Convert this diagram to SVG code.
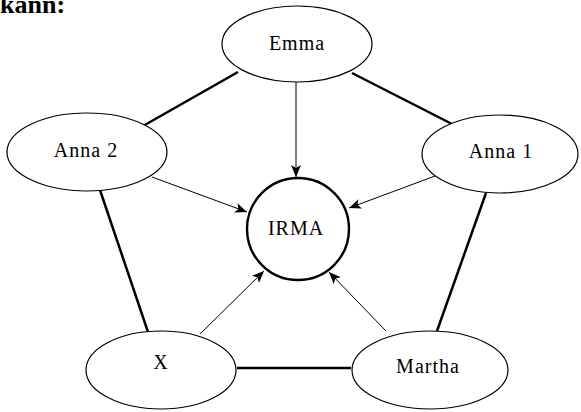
<svg xmlns="http://www.w3.org/2000/svg" width="581" height="412" viewBox="0 0 581 412">
<style>
.node{fill:#fff;stroke:#000;stroke-width:1.2}
.irma{fill:#fff;stroke:#000;stroke-width:2.4}
.lbl{font-family:"Liberation Serif","Times New Roman",serif;font-size:20px;letter-spacing:1px;text-anchor:middle;fill:#000}
.thick{stroke:#000;stroke-width:2.5;fill:none}
.arrow{stroke:#000;stroke-width:1;fill:none;marker-end:url(#ah)}
</style>
<defs>
<marker id="ah" viewBox="0 0 12 10" refX="12" refY="5" markerWidth="12" markerHeight="10" markerUnits="userSpaceOnUse" orient="auto">
<path d="M0,0 L12,5 L0,10 L3,5 Z" fill="#000"/>
</marker>
</defs>
<text x="0" y="13" style="font-family:'Liberation Serif',serif;font-size:26px;font-weight:bold">kann:</text>
<g id="connectors">
<line class="thick" x1="238" y1="72" x2="143" y2="126"/>
<line class="thick" x1="352" y1="73" x2="452" y2="124"/>
<line class="thick" x1="100" y1="190" x2="148" y2="332"/>
<line class="thick" x1="486" y1="193" x2="437" y2="331"/>
<line class="thick" x1="237" y1="368" x2="351" y2="368"/>
<line class="arrow" x1="296" y1="82" x2="296" y2="177"/>
<line class="arrow" x1="152" y1="177" x2="247" y2="212"/>
<line class="arrow" x1="435" y1="176" x2="349" y2="208"/>
<line class="arrow" x1="200" y1="334" x2="264" y2="271"/>
<line class="arrow" x1="386" y1="331" x2="329" y2="272"/>
</g>
<g id="emma"><ellipse class="node" cx="297" cy="44" rx="75" ry="38"/><text class="lbl" x="297" y="50">Emma</text></g>
<g id="anna2"><ellipse class="node" cx="87" cy="152" rx="80" ry="39"/><text class="lbl" x="86" y="157">Anna 2</text></g>
<g id="anna1"><ellipse class="node" cx="500" cy="154" rx="78" ry="39"/><text class="lbl" x="501" y="158">Anna 1</text></g>
<g id="irma"><circle class="irma" cx="298" cy="229" r="51"/><text class="lbl" x="296" y="235">IRMA</text></g>
<g id="x"><ellipse class="node" cx="161" cy="370" rx="75" ry="39"/><text class="lbl" x="161" y="369">X</text></g>
<g id="martha"><ellipse class="node" cx="430" cy="370" rx="78" ry="39"/><text class="lbl" x="428" y="373">Martha</text></g>
</svg>
